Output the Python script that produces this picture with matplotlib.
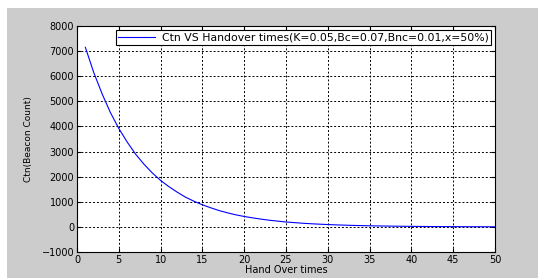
import numpy as np
import matplotlib.pyplot as plt
from matplotlib.patches import Rectangle

# handover times and beacon count
handover = list(range(1, 51))
ctn = [7150, 6150, 5300, 4550, 3920, 3380, 2900, 2500, 2150, 1850,
       1600, 1380, 1180, 1020, 880, 760, 650, 560, 480, 415,
       360, 310, 265, 230, 195, 170, 145, 125, 108, 93,
       80, 69, 59, 51, 44, 38, 33, 28, 24, 21,
       18, 15, 13, 11, 10, 8, 7, 6, 5, 4]

xticks = [0, 5, 10, 15, 20, 25, 30, 35, 40, 45, 50]
yticks = [-1000, 0, 1000, 2000, 3000, 4000, 5000, 6000, 7000, 8000]

W, H = 538, 278
fig = plt.figure(figsize=(W / 100, H / 100), dpi=100, facecolor="white")
# grey figure area, leaving the thin white strip at the top and left
fig.patches.append(Rectangle((7 / W, 0), 1 - 7 / W, 1 - 8 / H,
                             transform=fig.transFigure, facecolor="#cccccc",
                             edgecolor="none", zorder=-5))

ax = fig.add_axes([77 / W, 1 - 252 / H, (495 - 77) / W, (252 - 26) / H])
ax.set_facecolor("white")
ax.plot(handover, ctn, color="#0000ff", linewidth=0.8,
        label="Ctn VS Handover times(K=0.05,Bc=0.07,Bnc=0.01,x=50%)")

ax.set_xlim(0, 50)
ax.set_ylim(-1000, 8000)
ax.set_xticks(xticks)
ax.set_yticks(yticks)
ax.tick_params(direction="in", length=3, width=0.8, top=True, right=True,
               labelsize=7, pad=2)
ax.grid(True, color="black", linestyle=(0, (2, 2)), linewidth=0.7)
for s in ax.spines.values():
    s.set_linewidth(0.8)

ax.set_xlabel("Hand Over times", fontsize=7, labelpad=0)
ax.set_ylabel("Ctn(Beacon Count)", fontsize=6.5, labelpad=6)

leg = ax.legend(loc="upper right", fontsize=7.8, fancybox=False,
                framealpha=1, edgecolor="black", borderpad=0.2,
                handlelength=3.4, handletextpad=0.6, borderaxespad=0.4)
leg.get_frame().set_linewidth(0.8)

fig.savefig("out.png", dpi=100, facecolor=fig.get_facecolor())
